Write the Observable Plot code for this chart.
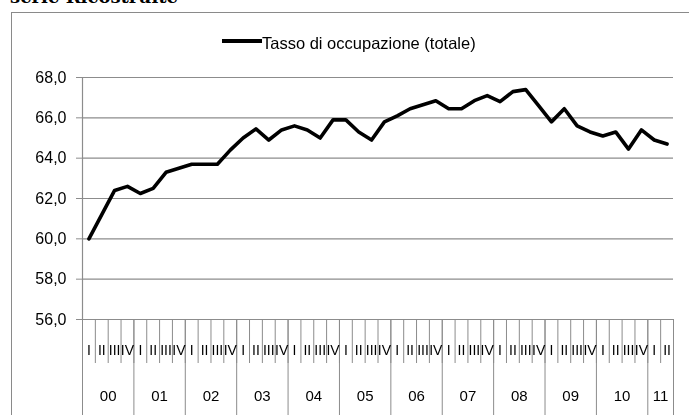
<!DOCTYPE html>
<html><head><meta charset="utf-8">
<script src="https://cdn.jsdelivr.net/npm/d3@7"></script>
<script src="https://cdn.jsdelivr.net/npm/@observablehq/plot@0.6"></script>
<style>
html,body{margin:0;padding:0;background:#fff}
body{width:689px;height:415px;overflow:hidden;position:relative;font-family:"Liberation Sans",Arial,sans-serif}
#title{position:absolute;left:10px;top:-13px;font:bold 18px/20px "DejaVu Serif",serif;white-space:nowrap;color:#000}
#frame{position:absolute;left:11px;top:12px;width:720px;height:440px;border:1px solid #8a8a8a;box-sizing:border-box}
#chart{position:absolute;left:0;top:0;transform:translateZ(0);will-change:transform}
#legline{position:absolute;left:222px;top:39px;width:40px;height:3.5px;background:#000}
#legtext{position:absolute;left:262px;top:33px;font-size:16.5px;line-height:20px;white-space:nowrap;color:#000}
</style></head><body>
<div id="title">serie Ricostruite</div>
<div id="frame"></div>
<div id="chart"></div>
<div id="legline"></div>
<div id="legtext">Tasso di occupazione (totale)</div>
<script>
const years = ["00","01","02","03","04","05","06","07","08","09","10","11"];
const quarterLabels = ["I","II","III","IV"];
const tasso = [60.0, 61.2, 62.4, 62.6, 62.25, 62.5, 63.3, 63.5, 63.7, 63.7, 63.7, 64.4,
  65.0, 65.45, 64.9, 65.4, 65.6, 65.4, 65.0, 65.9, 65.9, 65.3, 64.9, 65.8,
  66.1, 66.45, 66.65, 66.85, 66.45, 66.45, 66.85, 67.1, 66.8, 67.3, 67.4, 66.6,
  65.8, 66.45, 65.6, 65.3, 65.1, 65.3, 64.45, 65.4, 64.9, 64.7];
const yTicks = [56, 58, 60, 62, 64, 66, 68];

const rows = tasso.map((v, i) => ({i, year: years[Math.floor(i / 4)], q: quarterLabels[i % 4], v}));
const quarterBounds = d3.range(rows.length + 1).map(k => k - 0.5);
const yearBounds = quarterBounds.filter(b => (b + 0.5) % 4 === 0 || b === rows.length - 0.5);
const yearCenters = Array.from(d3.rollup(rows, g => d3.mean(g, d => d.i), d => d.year), ([year, c]) => ({year, c}));
const gray = "#8c8c8c";

const chart = Plot.plot({
  width: 689, height: 415,
  marginLeft: 82, marginRight: 16, marginTop: 77, marginBottom: 96,
  style: {fontFamily: "'Liberation Sans', Arial, sans-serif", background: "transparent", overflow: "visible"},
  x: {type: "linear", domain: [-0.5, rows.length - 0.5], label: null},
  y: {domain: [56, 68], label: null},
  marks: [
    Plot.gridY(yTicks, {stroke: gray, strokeOpacity: 1, strokeWidth: 1.2}),
    Plot.ruleX([-0.5], {stroke: gray, strokeWidth: 1.2}),
    Plot.axisY(yTicks, {label: null, tickSize: 6, tickPadding: 10, stroke: gray, fill: "#000", fontSize: 16,
      tickFormat: d => d.toFixed(1).replace(".", ",")}),
    Plot.axisX(quarterBounds, {label: null, tickSize: 44, stroke: gray, tickFormat: () => ""}),
    Plot.axisX(yearBounds, {label: null, tickSize: 100, stroke: gray, tickFormat: () => ""}),
    Plot.axisX(rows.map(d => d.i), {label: null, tickSize: 0, tickPadding: 26, fontSize: 14, fill: "#000",
      tickFormat: i => rows[i].q}),
    Plot.axisX(yearCenters.map(d => d.c), {label: null, tickSize: 0, tickPadding: 71, fontSize: 15, fill: "#000",
      tickFormat: c => yearCenters.find(d => d.c === c).year}),
    Plot.line(rows, {x: "i", y: "v", stroke: "#000", strokeWidth: 3.6, strokeLinejoin: "round"})
  ]
});
document.getElementById("chart").appendChild(chart);
</script>
</body></html>
